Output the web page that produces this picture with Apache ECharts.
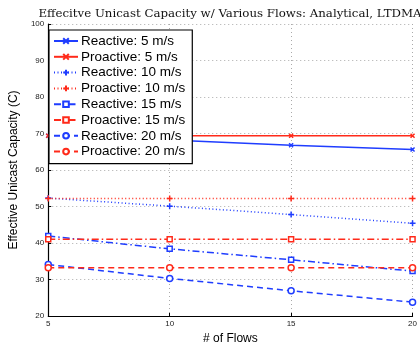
<!DOCTYPE html>
<html>
<head>
<meta charset="utf-8">
<script src="https://cdn.jsdelivr.net/npm/echarts@6/dist/echarts.min.js"></script>
<style>
  html, body { margin: 0; padding: 0; background: #fff; }
  #chart { width: 420px; height: 350px; }
</style>
</head>
<body>
<div id="chart"></div>
<script>
// ---- data ----
var flows = [5, 10, 15, 20];
var reactive5 = [69.4, 68.2, 66.8, 65.6];
var proactive5 = [69.4, 69.4, 69.4, 69.4];
var reactive10 = [52.3, 50.1, 47.8, 45.4];
var proactive10 = [52.2, 52.2, 52.2, 52.2];
var reactive15 = [41.9, 38.4, 35.4, 32.3];
var proactive15 = [41.0, 41.0, 41.0, 41.0];
var reactive20 = [34.1, 30.3, 26.9, 23.8];
var proactive20 = [33.2, 33.2, 33.2, 33.2];

var BLUE = '#1f3dff';
var RED = '#ff2a1a';

var SYM_X = 'path://M0,0L10,10M10,0L0,10';
var SYM_PLUS = 'path://M5,0L5,10M0,5L10,5';

function pairs(values) {
  return flows.map(function (f, i) { return [f, values[i]]; });
}

function makeSeries(name, values, color, dash, symbol, size) {
  var open = symbol === 'rect' || symbol === 'circle';
  return {
    name: name,
    type: 'line',
    data: pairs(values),
    symbol: symbol,
    symbolSize: size,
    showAllSymbol: true,
    lineStyle: { color: color, width: 1.5, type: dash },
    itemStyle: { color: open ? '#fff' : color, borderColor: color, borderWidth: 1.5 },
    emphasis: { disabled: true },
    animation: false
  };
}

var series = [
  makeSeries('Reactive: 5 m/s', reactive5, BLUE, 'solid', SYM_X, 4),
  makeSeries('Proactive: 5 m/s', proactive5, RED, 'solid', SYM_X, 4),
  makeSeries('Reactive: 10 m/s', reactive10, BLUE, [1, 2.5], SYM_PLUS, 6),
  makeSeries('Proactive: 10 m/s', proactive10, RED, [1, 2.5], SYM_PLUS, 6),
  makeSeries('Reactive: 15 m/s', reactive15, BLUE, [7, 3, 1.5, 3], 'rect', 5),
  makeSeries('Proactive: 15 m/s', proactive15, RED, [7, 3, 1.5, 3], 'rect', 5),
  makeSeries('Reactive: 20 m/s', reactive20, BLUE, [6, 4], 'circle', 6),
  makeSeries('Proactive: 20 m/s', proactive20, RED, [6, 4], 'circle', 6)
];

var gridDots = { show: true, lineStyle: { color: '#aaa', type: [1, 3], width: 1 } };

var chart = echarts.init(document.getElementById('chart'));
chart.setOption({
  animation: false,
  title: {
    text: 'Effecitve Unicast Capacity w/ Various Flows: Analytical, LTDMA',
    left: 225,
    textAlign: 'center',
    top: 3,
    textStyle: { fontFamily: 'DejaVu Serif', fontWeight: 'normal', fontSize: 11.8, color: '#111' }
  },
  grid: { left: 42, right: 7, top: 24, bottom: 34 },
  legend: {
    orient: 'vertical',
    left: 49,
    top: 30,
    itemWidth: 24,
    itemHeight: 7,
    itemGap: 1.8,
    padding: [4, 7, 5, 4],
    backgroundColor: '#fff',
    borderColor: '#000',
    borderWidth: 1.2,
    textStyle: { fontFamily: 'Liberation Sans', fontSize: 13.5, color: '#000', padding: [0, 0, 0, -2] }
  },
  xAxis: {
    type: 'value',
    min: 5,
    max: 20,
    interval: 5,
    name: '# of Flows',
    nameLocation: 'middle',
    nameGap: 13,
    nameTextStyle: { fontFamily: 'Liberation Sans', fontSize: 12, color: '#000', verticalAlign: 'top' },
    axisLine: { lineStyle: { color: '#000', width: 1.2 } },
    axisTick: { show: true, inside: true, length: 3, lineStyle: { color: '#000' } },
    axisLabel: { fontFamily: 'Liberation Sans', fontSize: 8, color: '#222', margin: 4 },
    splitLine: gridDots
  },
  yAxis: {
    type: 'value',
    min: 20,
    max: 100,
    interval: 10,
    name: 'Effective Unicast Capacity (C)',
    nameLocation: 'middle',
    nameGap: 22,
    nameTextStyle: { fontFamily: 'Liberation Sans', fontSize: 12, color: '#000' },
    axisLine: { show: true, lineStyle: { color: '#000', width: 1.2 } },
    axisTick: { show: true, inside: true, length: 3, lineStyle: { color: '#000' } },
    axisLabel: { fontFamily: 'Liberation Sans', fontSize: 8, color: '#222', margin: 4 },
    splitLine: gridDots
  },
  series: series
});
</script>
</body>
</html>
